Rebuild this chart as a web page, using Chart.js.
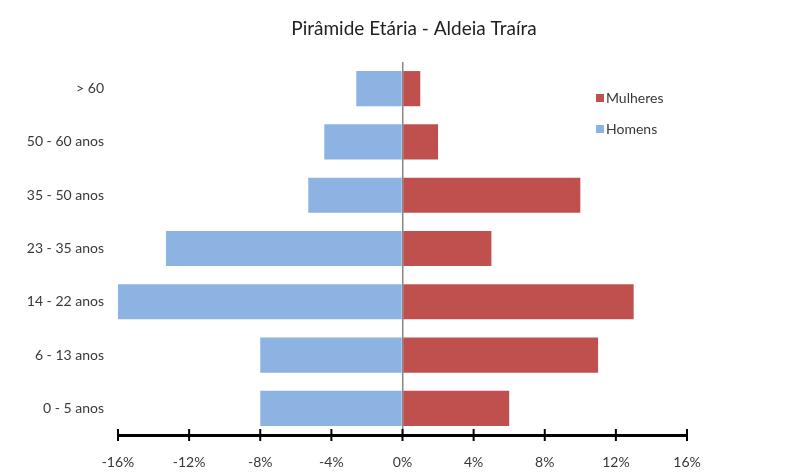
<!DOCTYPE html>
<html>
<head>
<meta charset="utf-8">
<title>Pirâmide Etária - Aldeia Traíra</title>
<script src="https://cdn.jsdelivr.net/npm/chart.js@4.4.1/dist/chart.umd.min.js"></script>
<style>
    html, body { margin: 0; padding: 0; background: #fff; }
    #wrap { width: 801px; height: 474px; }
</style>
</head>
<body>
<div id="wrap"><canvas id="piramideChart" width="801" height="474"></canvas></div>
<script>
// Faixas etárias (de cima para baixo)
const faixas = ['> 60', '50 - 60 anos', '35 - 50 anos', '23 - 35 anos', '14 - 22 anos', '6 - 13 anos', '0 - 5 anos'];
// Percentual de mulheres por faixa
const mulheres = [1, 2, 10, 5, 13, 11, 6];
// Percentual de homens por faixa (lado esquerdo = negativo)
const homens = [-2.6, -4.4, -5.3, -13.3, -16, -8, -8];
// Marcas do eixo x
const marcasX = [-16, -12, -8, -4, 0, 4, 8, 12, 16];

const titulo = 'Pirâmide Etária - Aldeia Traíra';
const fonte = "Lato, 'Open Sans', sans-serif";
const corTexto = '#383838';

// Título centralizado na largura toda do canvas
const tituloPlugin = {
    id: 'tituloCentral',
    afterDraw(chart) {
        const ctx = chart.ctx;
        ctx.save();
        ctx.font = '19px ' + fonte;
        ctx.fillStyle = '#222';
        ctx.textAlign = 'center';
        ctx.textBaseline = 'middle';
        ctx.fillText(titulo, 414, 29);
        ctx.restore();
    }
};

// Legenda desenhada dentro da área do gráfico
const legendaPlugin = {
    id: 'legendaInterna',
    afterDraw(chart) {
        const ctx = chart.ctx;
        const itens = [0, 1].map(i => chart.data.datasets[i]);
        ctx.save();
        ctx.font = '14px ' + fonte;
        ctx.textBaseline = 'middle';
        itens.forEach((ds, i) => {
            const y = 98 + i * 31;
            ctx.fillStyle = ds.backgroundColor;
            ctx.fillRect(596, y - 4, 8, 8);
            ctx.fillStyle = corTexto;
            ctx.fillText(ds.label, 606, y);
        });
        ctx.restore();
    }
};

// Marcas cruzando o eixo x
const marcasPlugin = {
    id: 'marcasEixo',
    afterDraw(chart) {
        const sx = chart.scales.x;
        const y = chart.chartArea.bottom;
        const ctx = chart.ctx;
        ctx.save();
        ctx.strokeStyle = '#000';
        ctx.lineWidth = 2;
        marcasX.forEach(v => {
            const x = sx.getPixelForValue(v);
            ctx.beginPath();
            ctx.moveTo(x, y - 6);
            ctx.lineTo(x, y + 6);
            ctx.stroke();
        });
        ctx.restore();
    }
};

const ctx = document.getElementById('piramideChart').getContext('2d');

new Chart(ctx, {
    type: 'bar',
    data: {
        labels: faixas,
        datasets: [{
            label: 'Mulheres',
            data: mulheres,
            backgroundColor: '#C0504D',
            categoryPercentage: 0.66,
            barPercentage: 1
        }, {
            label: 'Homens',
            data: homens,
            backgroundColor: '#8DB3E2',
            categoryPercentage: 0.66,
            barPercentage: 1
        }]
    },
    options: {
        indexAxis: 'y',
        responsive: false,
        animation: false,
        layout: {
            padding: { left: 0, right: 114, top: 62, bottom: 0 }
        },
        plugins: {
            legend: { display: false },
            tooltip: { enabled: false },
            title: { display: false }
        },
        scales: {
            x: {
                stacked: true,
                min: -16,
                max: 16,
                afterBuildTicks: scale => {
                    scale.ticks = marcasX.map(v => ({ value: v }));
                },
                afterFit: scale => { scale.height = 39; },
                ticks: {
                    color: corTexto,
                    font: { family: fonte, size: 14 },
                    padding: 19,
                    maxRotation: 0,
                    callback: v => v + '%'
                },
                grid: {
                    drawTicks: false,
                    color: c => (c.tick && c.tick.value === 0) ? '#888' : 'rgba(0,0,0,0)',
                    lineWidth: 1.5
                },
                border: { display: true, color: '#000', width: 3 }
            },
            y: {
                stacked: true,
                afterFit: scale => { scale.width = 118; },
                ticks: {
                    color: corTexto,
                    font: { family: fonte, size: 14 },
                    padding: 14
                },
                grid: { display: false, drawTicks: false },
                border: { display: false }
            }
        }
    },
    plugins: [tituloPlugin, legendaPlugin, marcasPlugin]
});
</script>
</body>
</html>
